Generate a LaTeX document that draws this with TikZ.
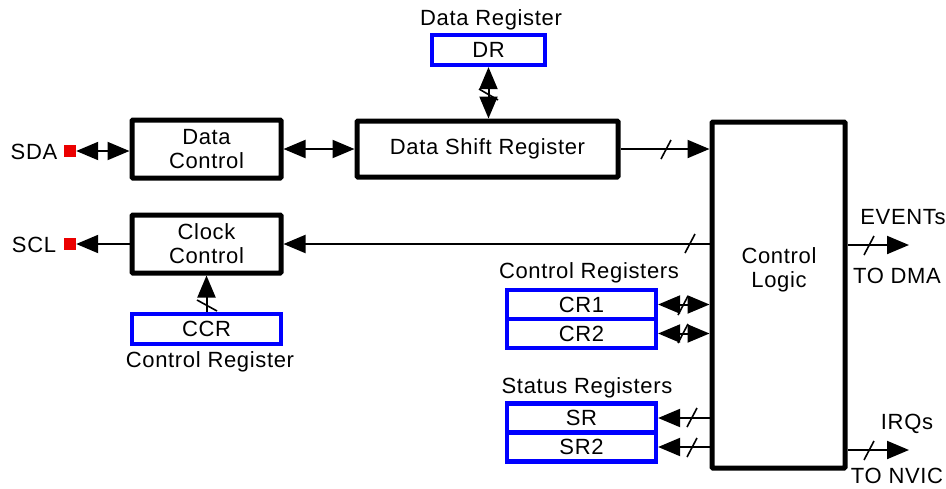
\documentclass[tikz,border=0pt]{standalone}
\usepackage{fontspec}
\setmainfont[LetterSpace=3]{Liberation Sans}
\usetikzlibrary{arrows.meta,calc}
\definecolor{regblue}{RGB}{0,0,255}
\definecolor{padred}{RGB}{235,0,0}
\tikzset{
  blk/.style={draw=black,line width=5pt,rounded corners=1pt,fill=white,inner sep=0pt,align=center,font=\fontsize{22}{24}\selectfont},
  reg/.style={draw=regblue,line width=4.2pt,fill=white,inner sep=0pt,font=\fontsize{22}{24}\selectfont},
  pad/.style={fill=padred,minimum size=12pt,inner sep=0pt},
  lbl/.style={inner sep=0pt,font=\fontsize{22}{24}\selectfont},
  conn/.style={line width=2pt},
  tip/.style={-{Triangle[length=22pt,width=18pt]}},
  bitip/.style={{Triangle[length=22pt,width=18pt]}-{Triangle[length=22pt,width=18pt]}},
  tick/.style={line width=1.6pt}
}
\begin{document}
\begin{tikzpicture}[x=1pt,y=-1pt]
\useasboundingbox (0,0) rectangle (946,488);
% blocks
\node[blk,minimum width=149pt,minimum height=58pt] (dc) at (206.5,149) {Data\\Control};
\node[blk,minimum width=149pt,minimum height=58pt] (cc) at (206.5,244) {Clock\\Control};
\node[blk,minimum width=261pt,minimum height=56pt] (dsr) at (487.5,149) {Data Shift Register};
\node[blk,minimum width=133pt,minimum height=346pt] (cl) at (778.5,295) {};
\node[lbl,align=center] (cltxt) at (779,270) {Control\\Logic};
% registers
\node[reg,minimum width=113pt,minimum height=30pt] (dr) at (488.5,50) {DR};
\node[reg,minimum width=149pt,minimum height=30pt] (ccr) at (206.5,329) {CCR};
\node[reg,minimum width=149pt,minimum height=29pt] (cr1) at (581.5,304.5) {CR1};
\node[reg,minimum width=149pt,minimum height=29pt] (cr2) at (581.5,333.5) {CR2};
\node[reg,minimum width=149pt,minimum height=29pt] (sr) at (581.5,418) {SR};
\node[reg,minimum width=149pt,minimum height=29pt] (sr2) at (581.5,447) {SR2};
% pads
\node[pad] (sda) at (70,151) {};
\node[pad] (scl) at (70,244) {};
% labels
\node[lbl] (sdal) at (34,152) {SDA};
\node[lbl] (scll) at (34,245) {SCL};
\node[lbl] (drl) at (491,20) {Data Register};
\node[lbl] (ccrl) at (210,362) {Control Register};
\node[lbl] (crl) at (589,273) {Control Registers};
\node[lbl] (srl) at (587,388) {Status Registers};
\node[lbl] (evl) at (903,217) {EVENTs};
\node[lbl] (dmal) at (897,276) {TO DMA};
\node[lbl] (irql) at (907,424) {IRQs};
\node[lbl] (nvicl) at (897,476) {TO NVIC};
% output coordinates
\coordinate (ev) at (909,245);
\coordinate (irq) at (909,450);
% connectors
\draw[conn,bitip] (sda.east) -- (sda.east -| dc.west);
\draw[conn,bitip] (dc.east) -- (dc.east -| dsr.west);
\draw[conn,bitip] (dr.south) -- (dr.south |- dsr.north);
\draw[conn,tip] (dsr.east) -- (dsr.east -| cl.west);
\draw[conn,tip] (cl.west |- cc.east) -- (cc.east);
\draw[conn,tip] (cc.west |- scl.east) -- (scl.east);
\draw[conn,tip] (ccr.north) -- (cc.south);
\draw[conn,bitip] (cr1.east) -- (cr1.east -| cl.west);
\draw[conn,bitip] (cr2.east) -- (cr2.east -| cl.west);
\draw[conn,tip] (sr.east -| cl.west) -- (sr.east);
\draw[conn,tip] (sr2.east -| cl.west) -- (sr2.east);
\draw[conn,tip] (ev -| cl.east) -- (ev);
\draw[conn,tip] (irq -| cl.east) -- (irq);
% bus ticks
\draw[tick] (479,89) -- (498,100);
\draw[tick] (661,159) -- (671,140);
\draw[tick] (685,253) -- (695,234);
\draw[tick] (678,315) -- (688,296);
\draw[tick] (678,343) -- (688,324);
\draw[tick] (687,427) -- (697,408);
\draw[tick] (687,457) -- (697,438);
\draw[tick] (864,255) -- (874,236);
\draw[tick] (864,460) -- (874,441);
\draw[tick] (197,300) -- (217,311);
\end{tikzpicture}
\end{document}
